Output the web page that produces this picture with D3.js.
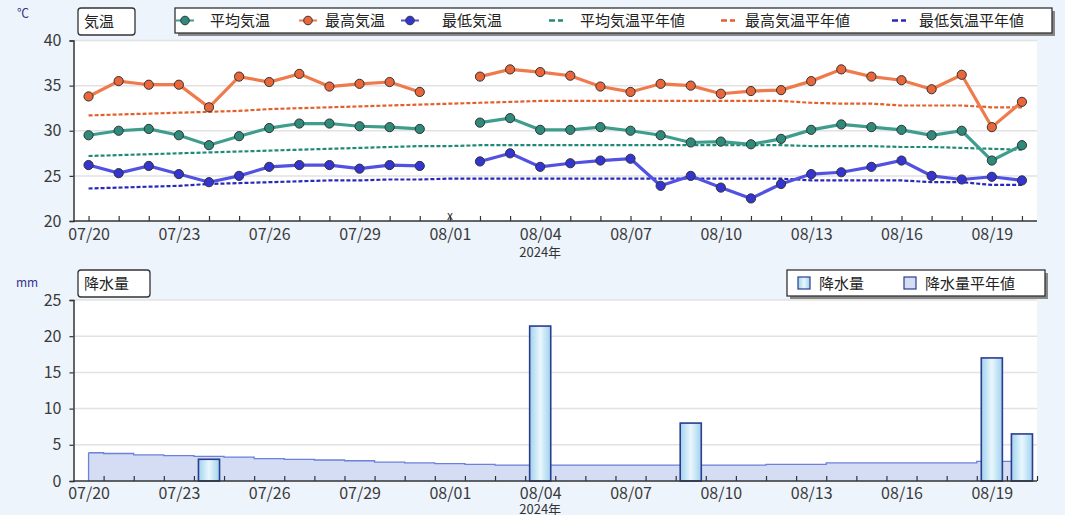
<!DOCTYPE html>
<html>
<head>
<meta charset="utf-8">
<script src="https://cdn.jsdelivr.net/npm/d3@7"></script>
<style>
  html, body { margin: 0; padding: 0; background: #eef4fc; }
  svg { display: block; }
  text { font-family: "Noto Sans CJK JP", "Noto Sans", sans-serif; }
</style>
</head>
<body>
<div id="chart"></div>
<script>
// 日付 (2024/07/20 - 08/20)
const dates = ["07/20", "07/21", "07/22", "07/23", "07/24", "07/25", "07/26", "07/27",
    "07/28", "07/29", "07/30", "07/31", "08/01", "08/02", "08/03", "08/04",
    "08/05", "08/06", "08/07", "08/08", "08/09", "08/10", "08/11", "08/12",
    "08/13", "08/14", "08/15", "08/16", "08/17", "08/18", "08/19", "08/20"];

// 気温 (08/01 は欠測)
const tempMean = [29.5, 30.0, 30.2, 29.5, 28.4, 29.4, 30.3, 30.8, 30.8, 30.5, 30.4, 30.2, null,
    30.9, 31.4, 30.1, 30.1, 30.4, 30.0, 29.5, 28.7, 28.8, 28.5, 29.1, 30.1, 30.7, 30.4, 30.1,
    29.5, 30.0, 26.7, 28.4];
const tempMax = [33.8, 35.5, 35.1, 35.1, 32.6, 36.0, 35.4, 36.3, 34.9, 35.2, 35.4, 34.3, null,
    36.0, 36.8, 36.5, 36.1, 34.9, 34.3, 35.2, 35.0, 34.1, 34.4, 34.5, 35.5, 36.8, 36.0, 35.6,
    34.6, 36.2, 30.4, 33.2];
const tempMin = [26.2, 25.3, 26.1, 25.2, 24.3, 25.0, 26.0, 26.2, 26.2, 25.8, 26.2, 26.1, null,
    26.6, 27.5, 26.0, 26.4, 26.7, 26.9, 23.9, 25.0, 23.7, 22.5, 24.1, 25.2, 25.4, 26.0, 26.7,
    25.0, 24.6, 24.9, 24.5];

// 平年値
const normMean = [27.2, 27.3, 27.4, 27.5, 27.6, 27.7, 27.8, 27.9, 28.0, 28.1, 28.2, 28.3, 28.3,
    28.4, 28.4, 28.4, 28.4, 28.4, 28.4, 28.4, 28.4, 28.4, 28.4, 28.4, 28.3, 28.3, 28.3, 28.2,
    28.2, 28.1, 28.0, 27.9];
const normMax = [31.7, 31.8, 31.9, 32.0, 32.1, 32.2, 32.4, 32.5, 32.6, 32.7, 32.8, 32.9, 33.0,
    33.1, 33.2, 33.3, 33.3, 33.3, 33.3, 33.3, 33.3, 33.3, 33.3, 33.3, 33.1, 33.0, 33.0, 32.8,
    32.8, 32.8, 32.6, 32.6];
const normMin = [23.6, 23.7, 23.8, 23.9, 24.1, 24.2, 24.3, 24.4, 24.5, 24.5, 24.6, 24.6, 24.7,
    24.7, 24.7, 24.7, 24.7, 24.7, 24.7, 24.7, 24.7, 24.7, 24.7, 24.7, 24.5, 24.5, 24.5, 24.5,
    24.3, 24.3, 24.0, 24.0];

// 降水量
const precip = [0, 0, 0, 0, 3.0, 0, 0, 0, 0, 0, 0, 0, 0, 0, 0, 21.4,
    0, 0, 0, 0, 8.0, 0, 0, 0, 0, 0, 0, 0, 0, 0, 17.0, 6.5];
const precipNormal = [3.9, 3.8, 3.6, 3.5, 3.4, 3.3, 3.1, 3.0, 2.9, 2.8, 2.6, 2.5, 2.4, 2.3, 2.2, 2.2,
    2.2, 2.2, 2.2, 2.2, 2.2, 2.2, 2.2, 2.3, 2.3, 2.5, 2.5, 2.5, 2.5, 2.5, 2.7, 2.7];

const tempTicks = [20, 25, 30, 35, 40];
const precipTicks = [0, 5, 10, 15, 20, 25];
const labelDays = [0, 3, 6, 9, 12, 15, 18, 21, 24, 27, 30];
const yearLabel = "2024年";

const tempSeries = [
    { name: "平均気温", values: tempMean, line: "#3f9d8d", fill: "#2e8a7a" },
    { name: "最高気温", values: tempMax, line: "#ef7a4c", fill: "#e8663a" },
    { name: "最低気温", values: tempMin, line: "#5252e2", fill: "#3434d2" }
];
const normSeries = [
    { name: "平均気温平年値", values: normMean, color: "#1f8a78" },
    { name: "最高気温平年値", values: normMax, color: "#e2602c" },
    { name: "最低気温平年値", values: normMin, color: "#2828bc" }
];

function init() {
    const w = 1065, h = 515;
    const left = 73.5, right = 1037;
    const days = d3.range(dates.length);

    const svg = d3.select("#chart").append("svg").attr("width", w).attr("height", h);
    svg.append("rect").attr("width", w).attr("height", h).attr("fill", "#eef4fc");

    const defs = svg.append("defs");
    const grad = defs.append("linearGradient").attr("id", "barGrad")
        .attr("x1", "0%").attr("x2", "100%").attr("y1", "0%").attr("y2", "0%");
    grad.append("stop").attr("offset", "0%").attr("stop-color", "#9fd2ee");
    grad.append("stop").attr("offset", "50%").attr("stop-color", "#eaf7fd");
    grad.append("stop").attr("offset", "100%").attr("stop-color", "#9fd2ee");

    const x = d3.scaleLinear().domain([-0.5, dates.length - 0.5]).range([left, right]);
    const yT = d3.scaleLinear().domain([20, 40]).range([221, 40.5]);
    const yP = d3.scaleLinear().domain([0, 25]).range([481, 300]);

    // ---------- 気温 ----------
    svg.append("rect").attr("x", left).attr("y", yT(40)).attr("width", right - left)
        .attr("height", yT(20) - yT(40)).attr("fill", "#fff");

    svg.append("g").selectAll("line").data(tempTicks.slice(1)).join("line")
        .attr("x1", left).attr("x2", right).attr("y1", d => yT(d)).attr("y2", d => yT(d))
        .attr("stroke", "#e2e2e2").attr("stroke-width", 1.5);

    // 平年値 (点線)
    normSeries.forEach(s => {
        svg.append("path")
            .attr("d", d3.line().x((d, i) => x(i)).y(d => yT(d))(s.values))
            .attr("fill", "none").attr("stroke", s.color)
            .attr("stroke-width", 2.2).attr("stroke-dasharray", "4,2");
    });

    // 実測値
    tempSeries.forEach(s => {
        svg.append("path")
            .attr("d", d3.line().defined(d => d != null).x((d, i) => x(i)).y(d => yT(d))(s.values))
            .attr("fill", "none").attr("stroke", s.line).attr("stroke-width", 3.2);
        svg.append("g").selectAll("circle")
            .data(s.values.map((v, i) => [i, v]).filter(d => d[1] != null))
            .join("circle")
            .attr("cx", d => x(d[0])).attr("cy", d => yT(d[1])).attr("r", 4.6)
            .attr("fill", s.fill).attr("stroke", "#333").attr("stroke-width", 1);
    });

    // 軸
    svg.append("g").attr("transform", `translate(${left},0)`)
        .call(d3.axisLeft(yT).tickValues(tempTicks).tickSize(4).tickPadding(8));
    const xTicksT = svg.append("g").attr("transform", `translate(0,${yT(20)})`)
        .call(d3.axisBottom(x).tickValues(days).tickSize(-5).tickFormat(""));
    xTicksT.select(".domain").attr("d", `M${left},0H${right}`);
    const xLabT = svg.append("g").attr("transform", `translate(0,${yT(20)})`)
        .call(d3.axisBottom(x).tickValues(labelDays).tickSize(0).tickPadding(8)
            .tickFormat(i => dates[i]));
    xLabT.select(".domain").remove();

    svg.append("text").attr("x", x(12)).attr("y", yT(20) - 1)
        .attr("text-anchor", "middle").attr("font-size", 12).attr("fill", "#333").text("x");
    svg.append("text").attr("x", x(15)).attr("y", 257)
        .attr("text-anchor", "middle").attr("font-size", 13).attr("fill", "#333").text(yearLabel);

    // ---------- 降水量 ----------
    svg.append("rect").attr("x", left).attr("y", yP(25)).attr("width", right - left)
        .attr("height", yP(0) - yP(25)).attr("fill", "#fff");
    svg.append("g").selectAll("line").data(precipTicks.slice(1)).join("line")
        .attr("x1", left).attr("x2", right).attr("y1", d => yP(d)).attr("y2", d => yP(d))
        .attr("stroke", "#e2e2e2").attr("stroke-width", 1.5);

    svg.append("path")
        .attr("d", d3.area().curve(d3.curveStep).x((d, i) => x(i)).y0(yP(0)).y1(d => yP(d))(precipNormal))
        .attr("fill", "#d5ddf5");
    svg.append("path")
        .attr("d", d3.line().curve(d3.curveStep).x((d, i) => x(i)).y(d => yP(d))(precipNormal))
        .attr("fill", "none").attr("stroke", "#6c80dc").attr("stroke-width", 1.3);
    svg.append("line").attr("x1", x(0)).attr("x2", x(0))
        .attr("y1", yP(0)).attr("y2", yP(precipNormal[0]))
        .attr("stroke", "#6c80dc").attr("stroke-width", 1.3);

    const bw = (x(1) - x(0)) * 0.7;
    svg.append("g").selectAll("rect")
        .data(precip.map((v, i) => [i, v]).filter(d => d[1] > 0))
        .join("rect")
        .attr("x", d => x(d[0]) - bw / 2).attr("width", bw)
        .attr("y", d => yP(d[1])).attr("height", d => yP(0) - yP(d[1]))
        .attr("fill", "url(#barGrad)").attr("stroke", "#2c3c8e").attr("stroke-width", 1.6);

    svg.append("g").attr("transform", `translate(${left},0)`)
        .call(d3.axisLeft(yP).tickValues(precipTicks).tickSize(4).tickPadding(8));
    const xTicksP = svg.append("g").attr("transform", `translate(0,${yP(0)})`)
        .call(d3.axisBottom(x).tickValues(days.map(i => i + 0.5)).tickSize(-5).tickFormat(""));
    xTicksP.select(".domain").attr("d", `M${left},0H${right}`);
    const xLabP = svg.append("g").attr("transform", `translate(0,${yP(0)})`)
        .call(d3.axisBottom(x).tickValues(labelDays).tickSize(0).tickPadding(7)
            .tickFormat(i => dates[i]));
    xLabP.select(".domain").remove();
    svg.append("text").attr("x", x(15)).attr("y", 514)
        .attr("text-anchor", "middle").attr("font-size", 13).attr("fill", "#333").text(yearLabel);

    // 軸スタイル
    svg.selectAll(".tick text").attr("font-size", 16).attr("fill", "#3a3a3a")
        .attr("font-family", "'Noto Sans CJK JP', sans-serif");
    svg.selectAll(".domain").attr("stroke", "#333").attr("stroke-width", 1.5);
    svg.selectAll(".tick line").attr("stroke", "#333").attr("stroke-width", 1.2);

    // 単位
    svg.append("text").attr("x", 17).attr("y", 18).attr("font-size", 12)
        .attr("fill", "#333388").text("℃");
    svg.append("text").attr("x", 16).attr("y", 287).attr("font-size", 12)
        .attr("fill", "#333388").text("mm");

    // タイトル枠
    function titleBox(tx, ty, tw, label) {
        svg.append("rect").attr("x", tx).attr("y", ty).attr("width", tw).attr("height", 27)
            .attr("rx", 3).attr("fill", "#fff").attr("stroke", "#333").attr("stroke-width", 1.3);
        svg.append("text").attr("x", tx + 6).attr("y", ty + 19).attr("font-size", 15)
            .attr("fill", "#222").text(label);
    }
    titleBox(78, 8, 57, "気温");
    titleBox(78, 270, 72, "降水量");

    // 凡例 (気温)
    svg.append("rect").attr("x", 178).attr("y", 11).attr("width", 877).attr("height", 25).attr("fill", "#888");
    svg.append("rect").attr("x", 175).attr("y", 8).attr("width", 877).attr("height", 25)
        .attr("fill", "#fff").attr("stroke", "#333").attr("stroke-width", 1.3);
    const legT = [
        { cx: 185, tx: 210, s: tempSeries[0] },
        { cx: 308, tx: 325, s: tempSeries[1] },
        { cx: 410, tx: 442, s: tempSeries[2] }
    ];
    legT.forEach(d => {
        svg.append("line").attr("x1", d.cx - 9).attr("x2", d.cx + 9).attr("y1", 20.5).attr("y2", 20.5)
            .attr("stroke", d.s.line).attr("stroke-width", 2);
        svg.append("circle").attr("cx", d.cx).attr("cy", 20.5).attr("r", 4.3)
            .attr("fill", d.s.fill).attr("stroke", "#333").attr("stroke-width", 1);
        svg.append("text").attr("x", d.tx).attr("y", 26).attr("font-size", 15).attr("fill", "#222").text(d.s.name);
    });
    const legN = [
        { x0: 549, tx: 580, s: normSeries[0] },
        { x0: 721, tx: 745, s: normSeries[1] },
        { x0: 892, tx: 919, s: normSeries[2] }
    ];
    legN.forEach(d => {
        svg.append("line").attr("x1", d.x0).attr("x2", d.x0 + 14).attr("y1", 20.5).attr("y2", 20.5)
            .attr("stroke", d.s.color).attr("stroke-width", 2.5).attr("stroke-dasharray", "6,3");
        svg.append("text").attr("x", d.tx).attr("y", 26).attr("font-size", 15).attr("fill", "#222").text(d.s.name);
    });

    // 凡例 (降水量)
    svg.append("rect").attr("x", 790).attr("y", 273).attr("width", 258).attr("height", 26).attr("fill", "#888");
    svg.append("rect").attr("x", 787).attr("y", 270).attr("width", 258).attr("height", 26)
        .attr("fill", "#fff").attr("stroke", "#333").attr("stroke-width", 1.3);
    [{ sx: 798, tx: 819, label: "降水量", fill: "url(#barGrad)", stroke: "#2c3c8e" },
     { sx: 904, tx: 925, label: "降水量平年値", fill: "#d5ddf5", stroke: "#2c3c8e" }].forEach(d => {
        svg.append("rect").attr("x", d.sx).attr("y", 277).attr("width", 12).attr("height", 12)
            .attr("fill", d.fill).attr("stroke", d.stroke).attr("stroke-width", 1.2);
        svg.append("text").attr("x", d.tx).attr("y", 289).attr("font-size", 15).attr("fill", "#222").text(d.label);
    });
}

window.onload = init;
</script>
</body>
</html>
